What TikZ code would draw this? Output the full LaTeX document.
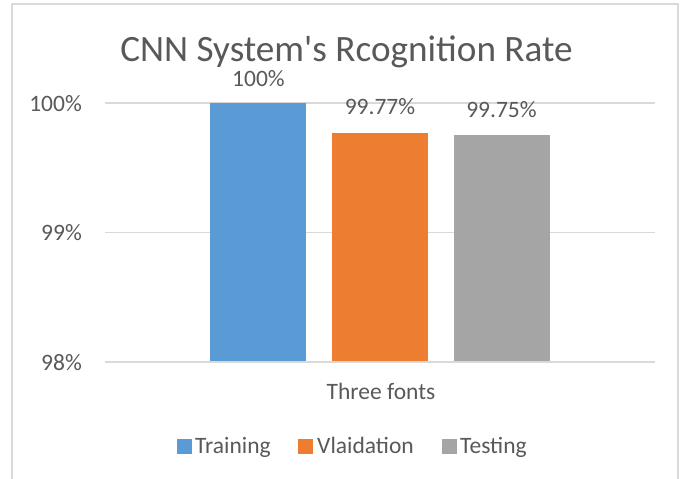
\documentclass[tikz,border=0pt]{standalone}
\usepackage{fontspec}
\setmainfont{Carlito}[Ligatures=TeXOff]
\definecolor{txt}{HTML}{595959}
\definecolor{grid}{HTML}{D9D9D9}
\definecolor{frame}{HTML}{D9D9D9}
\definecolor{cblue}{HTML}{5B9BD5}
\definecolor{corange}{HTML}{ED7D31}
\definecolor{cgray}{HTML}{A5A5A5}
\begin{document}
\begin{tikzpicture}[x=1pt,y=-1pt,
  lbl/.style={text=txt,font=\fontsize{23.5}{28}\selectfont,inner sep=0pt},
  ttl/.style={text=txt,font=\fontsize{37.2}{44}\selectfont,inner sep=0pt},
  gridline/.style={draw=grid,line width=1.5pt},
  legsq/.style={inner sep=0pt,minimum size=15pt}]
\useasboundingbox[fill=white] (0,0) rectangle (688,479);
% frame
\draw[frame,line width=2pt] (12,480) -- (12,4) -- (678,4) -- (678,480);
% title
\node[ttl,anchor=base] (title) at (346.5,61) {CNN System's Rcognition Rate};
% gridlines
\coordinate (g100a) at (105,103); \coordinate (g100b) at (655,103);
\coordinate (g99a) at (105,232.5); \coordinate (g99b) at (655,232.5);
\coordinate (g98a) at (105,362); \coordinate (g98b) at (655,362);
\draw[gridline] (g100a) -- (g100b);
\draw[gridline] (g99a) -- (g99b);
\draw[gridline] (g98a) -- (g98b);
% tick labels
\node[lbl,anchor=base east] (t100) at (82,111) {100\%};
\node[lbl,anchor=base east] (t99) at (82,240.5) {99\%};
\node[lbl,anchor=base east] (t98) at (82,370) {98\%};
% bars
\fill[cblue] (210,103) rectangle (306,362);
\fill[corange] (332,133) rectangle (428,362);
\fill[cgray] (454,135) rectangle (550,362);
\draw[gridline] (g98a) -- (g98b);
% data labels
\node[lbl,anchor=base] (l1) at (258.5,86) {100\%};
\node[lbl,anchor=base] (l2) at (380,114) {99.77\%};
\node[lbl,anchor=base] (l3) at (501.5,117) {99.75\%};
% category label
\node[lbl,anchor=base] (cat) at (381,399) {Three fonts};
% legend
\node[legsq,fill=cblue] (s1) at (184,446) {};
\node[lbl,anchor=base west] (n1) at (195,453) {Training};
\node[legsq,fill=corange] (s2) at (305.5,446) {};
\node[lbl,anchor=base west] (n2) at (317,453) {Vlaidation};
\node[legsq,fill=cgray] (s3) at (449.5,446) {};
\node[lbl,anchor=base west] (n3) at (460,453) {Testing};
\end{tikzpicture}
\end{document}
